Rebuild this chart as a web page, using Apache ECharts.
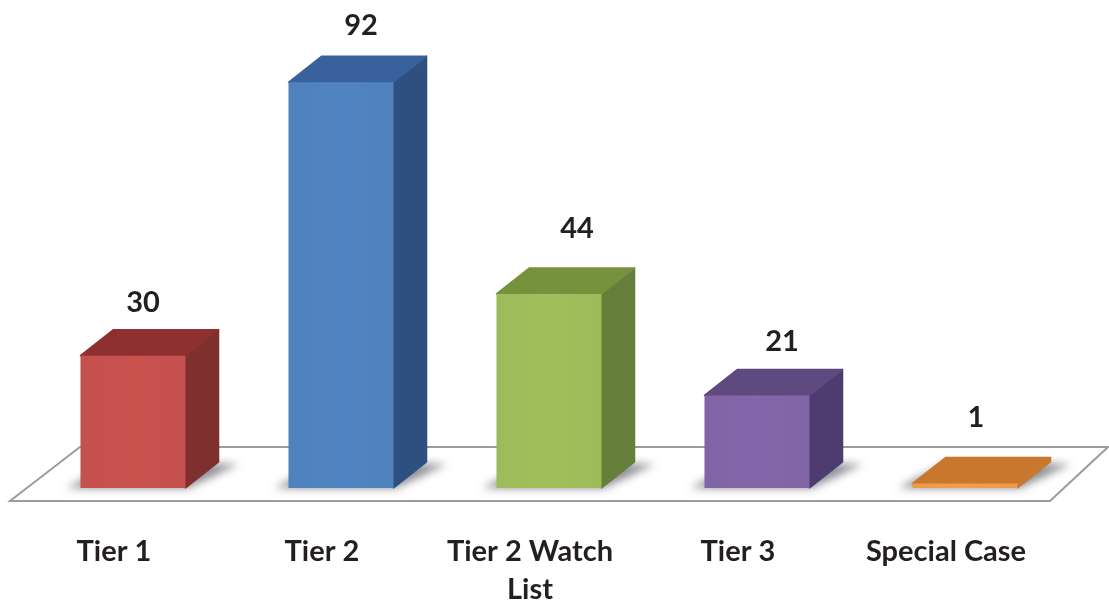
<!DOCTYPE html>
<html>
<head>
<meta charset="utf-8">
<style>
  html, body { margin: 0; padding: 0; background: #fff; }
  #chart { width: 1109px; height: 601px; }
</style>
<script src="https://cdn.jsdelivr.net/npm/echarts@6/dist/echarts.min.js"></script>
</head>
<body>
<div id="chart"></div>
<script>
const categories = ['Tier 1', 'Tier 2', 'Tier 2 Watch\nList', 'Tier 3', 'Special Case']
const values = [30, 92, 44, 21, 1]

const frontColors = ['#C4504D', '#4F81BD', '#9DBB59', '#8064A6', '#EC9A48']
const sideColors = ['#7F2F2E', '#2D5080', '#667F3A', '#4E3B70', '#C87A30']
const topColors = ['#8F3030', '#39629C', '#76923C', '#5F4A80', '#C9772E']

// the labels don't sit centred over the bars in the original
const labelShift = [[10, -53], [20, -57], [28, -65], [25, -54], [11, -66]]

const depthX = 33
const depthY = -26
const offscreen = 3000

function poly(points, fill, z2) {
  return {
    type: 'polygon',
    z2: z2,
    shape: { points: points },
    style: { fill: fill, stroke: fill, lineWidth: 1.5, lineJoin: 'round' }
  }
}

function renderBar(params, api) {
  const i = api.value(0)
  const base = api.coord([i, 0])
  const top = api.coord([i, api.value(1)])
  const w = api.size([1, 0])[0] * 0.505
  const x0 = base[0] - w / 2
  const x1 = base[0] + w / 2
  const yb = base[1]
  const yt = top[1]

  const front = [[x0, yb], [x1, yb], [x1, yt], [x0, yt]]
  const side = [[x1, yb], [x1 + depthX, yb + depthY], [x1 + depthX, yt + depthY], [x1, yt]]
  const lid = [[x0, yt], [x1, yt], [x1 + depthX, yt + depthY], [x0 + depthX, yt + depthY]]
  // floor shadow, drawn off the canvas so only its blur lands on the floor
  const shadow = [
    [x0 - 14, yb], [x1 + 2, yb], [x1 + depthX + 20, yb + depthY + 2], [x0 + depthX, yb + depthY + 2]
  ].map(p => [p[0] - offscreen, p[1]])

  return {
    type: 'group',
    children: [
      {
        type: 'polygon',
        z2: 1,
        shape: { points: shadow },
        style: {
          fill: '#000',
          shadowBlur: 9,
          shadowOffsetX: offscreen,
          shadowColor: 'rgba(110,110,120,0.8)'
        }
      },
      poly(side, sideColors[i], 2),
      poly(lid, topColors[i], 2),
      {
        type: 'polygon',
        z2: 3,
        shape: { points: front },
        style: {
          fill: new echarts.graphic.LinearGradient(0, 0, 1, 0, [
            { offset: 0, color: frontColors[i] },
            { offset: 0.5, color: echarts.color.lift(frontColors[i], -0.03) },
            { offset: 1, color: frontColors[i] }
          ])
        }
      },
      {
        type: 'text',
        z2: 4,
        style: {
          text: String(api.value(1)),
          x: base[0] + labelShift[i][0],
          y: yt + labelShift[i][1],
          align: 'center',
          verticalAlign: 'middle',
          fill: '#231F20',
          font: 'bold 29px Lato'
        }
      }
    ]
  }
}

const myChart = echarts.init(document.getElementById('chart'), null, { renderer: 'canvas' })

myChart.setOption({
  animation: false,
  backgroundColor: '#fff',
  grid: { left: 29, right: 40, top: 47, bottom: 113, outerBoundsMode: 'none' },
  // floor the bars stand on
  graphic: [
    {
      type: 'polygon',
      z: 0,
      shape: { points: [[10, 501], [1050, 501], [1108, 447], [80, 447]] },
      style: { fill: '#fff', stroke: '#9A9C9E', lineWidth: 2 }
    }
  ],
  xAxis: {
    type: 'category',
    data: categories,
    axisLine: { show: false },
    axisTick: { show: false },
    axisLabel: {
      interval: 0,
      margin: 45,
      color: '#231F20',
      fontFamily: 'Lato',
      fontWeight: 'bold',
      fontSize: 29,
      lineHeight: 38,
      verticalAlign: 'top',
      padding: [0, 38, 0, 0]
    }
  },
  yAxis: { type: 'value', min: 0, max: 100, show: false },
  series: [
    {
      type: 'custom',
      renderItem: renderBar,
      clip: false,
      encode: { x: 0, y: 1 },
      data: values.map((v, i) => [i, v])
    }
  ]
})

window.addEventListener('resize', myChart.resize)
</script>
</body>
</html>
